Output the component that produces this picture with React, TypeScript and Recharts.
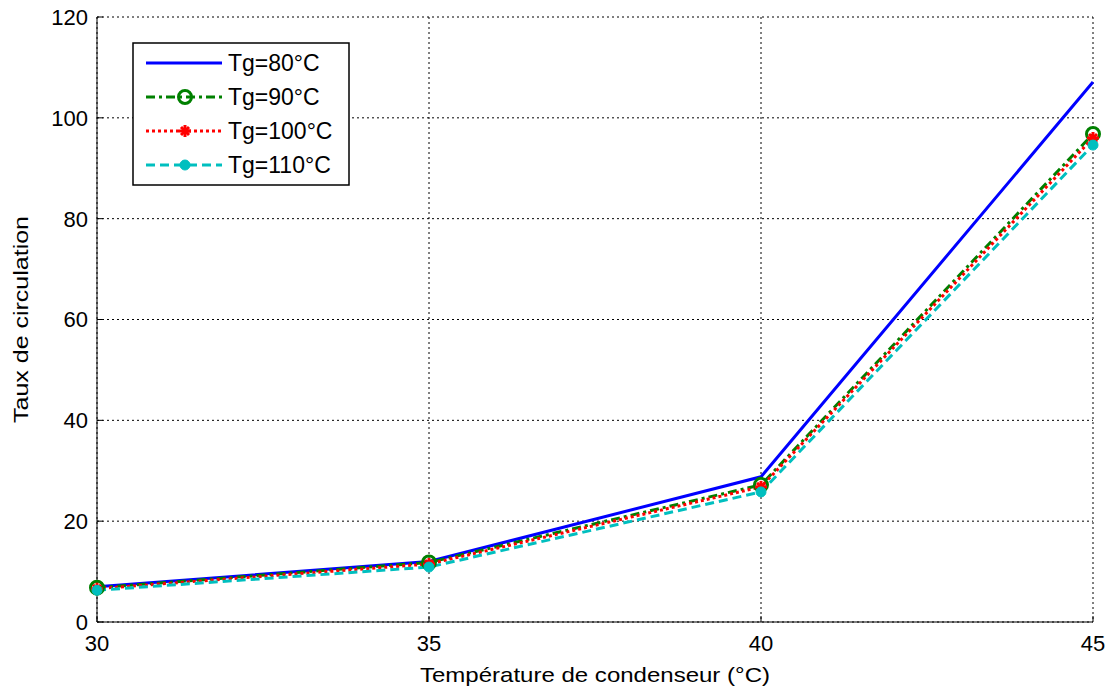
import React from 'react'
import {
  LineChart,
  Line,
  XAxis,
  YAxis,
  CartesianGrid,
} from 'recharts'

// condenser temperatures (°C)
const temps = [30, 35, 40, 45]
// circulation ratio per generator temperature
const tg80 = [7.0, 12.0, 28.8, 107.1]
const tg90 = [6.8, 11.8, 27.2, 96.8]
const tg100 = [6.6, 11.5, 26.8, 96.0]
const tg110 = [6.3, 10.9, 25.8, 94.6]

const xTicks = [30, 35, 40, 45]
const yTicks = [0, 20, 40, 60, 80, 100, 120]

const data = temps.map((t, i) => ({
  t,
  tg80: tg80[i],
  tg90: tg90[i],
  tg100: tg100[i],
  tg110: tg110[i],
}))

const FONT = '"Liberation Sans", Arial, sans-serif'

const OpenCircle = (props: any) => {
  const { cx, cy } = props
  if (cx == null || cy == null) return null
  return <circle cx={cx} cy={cy} r={6.5} fill="none" stroke="#008000" strokeWidth={3} />
}

const RedStar = (props: any) => {
  const { cx, cy } = props
  if (cx == null || cy == null) return null
  return (
    <g stroke="#ff0000" strokeWidth={3}>
      <line x1={cx - 6} y1={cy} x2={cx + 6} y2={cy} />
      <line x1={cx} y1={cy - 6} x2={cx} y2={cy + 6} />
      <line x1={cx - 4} y1={cy - 4} x2={cx + 4} y2={cy + 4} />
      <line x1={cx - 4} y1={cy + 4} x2={cx + 4} y2={cy - 4} />
    </g>
  )
}

const CyanDot = (props: any) => {
  const { cx, cy } = props
  if (cx == null || cy == null) return null
  return <circle cx={cx} cy={cy} r={5} fill="#00bfbf" stroke="#00bfbf" />
}

const XTick = (props: any) => {
  const { x, y, payload } = props
  return (
    <text x={x} y={y} dy="0.75em" textAnchor="middle" fontSize={22} fontFamily={FONT} fill="#000">
      {payload.value}
    </text>
  )
}

const YTick = (props: any) => {
  const { x, y, payload } = props
  return (
    <text x={x} y={y} dy="0.36em" textAnchor="end" fontSize={22} fontFamily={FONT} fill="#000">
      {payload.value}
    </text>
  )
}

const legendItems = [
  { label: 'Tg=80°C', color: '#0000ff', dash: undefined, marker: 'none' },
  { label: 'Tg=90°C', color: '#008000', dash: '9 4 3 4', marker: 'circle' },
  { label: 'Tg=100°C', color: '#ff0000', dash: '3 3', marker: 'star' },
  { label: 'Tg=110°C', color: '#00bfbf', dash: '9 5', marker: 'dot' },
]

const LegendBox = () => (
  <svg
    width={218}
    height={144}
    style={{ position: 'absolute', left: 132, top: 42 }}
  >
    <rect x={1} y={1} width={216} height={142} fill="#fff" stroke="#000" strokeWidth={1.5} />
    {legendItems.map((it, i) => {
      const y = 21 + i * 34
      return (
        <g key={it.label}>
          <line x1={14} y1={y} x2={90} y2={y} stroke={it.color} strokeWidth={3} strokeDasharray={it.dash} />
          {it.marker === 'circle' && <OpenCircle cx={53} cy={y} />}
          {it.marker === 'star' && <RedStar cx={53} cy={y} />}
          {it.marker === 'dot' && <CyanDot cx={53} cy={y} />}
          <text x={96} y={y + 8} fontSize={23} fontFamily={FONT} fill="#000">
            {it.label}
          </text>
        </g>
      )
    })}
  </svg>
)

export default function App() {
  return (
    <div style={{ position: 'absolute', left: 0, top: 0, width: 1116, height: 688, background: '#fff' }}>
      <LineChart
        width={1116}
        height={688}
        data={data}
        margin={{ top: 17, right: 23, left: 0, bottom: 0 }}
      >
        <CartesianGrid stroke="#000" strokeDasharray="2 3" strokeWidth={1} />
        <XAxis
          type="number"
          dataKey="t"
          domain={[30, 45]}
          ticks={xTicks}
          height={66}
          tick={<XTick />}
          tickSize={-6}
          tickMargin={18}
          tickLine={{ stroke: '#000' }}
          axisLine={{ stroke: '#000' }}
          label={{
            content: (p: any) => {
              const vb = p.viewBox
              return (
                <text x={vb.x + vb.width / 2} y={682} textAnchor="middle" fontSize={21} fontFamily={FONT} fill="#000" textLength={350} lengthAdjust="spacingAndGlyphs">
                  Température de condenseur (°C)
                </text>
              )
            },
          }}
        />
        <XAxis xAxisId="top" orientation="top" type="number" dataKey="t" domain={[30, 45]} ticks={xTicks} height={0} tick={false} tickSize={-6} tickLine={{ stroke: '#000' }} axisLine={{ stroke: '#000' }} />
        <YAxis
          type="number"
          domain={[0, 120]}
          ticks={yTicks}
          width={97}
          tick={<YTick />}
          tickSize={-6}
          tickMargin={15}
          tickLine={{ stroke: '#000' }}
          axisLine={{ stroke: '#000' }}
          label={{
            content: (p: any) => {
              const vb = p.viewBox
              const cy = vb.y + vb.height / 2
              return (
                <text x={28} y={cy} transform={`rotate(-90 28 ${cy})`} textAnchor="middle" fontSize={21} fontFamily={FONT} fill="#000" textLength={207} lengthAdjust="spacingAndGlyphs">
                  Taux de circulation
                </text>
              )
            },
          }}
        />
        <YAxis yAxisId="right" orientation="right" type="number" domain={[0, 120]} ticks={yTicks} width={0} tick={false} tickSize={-6} tickLine={{ stroke: '#000' }} axisLine={{ stroke: '#000' }} />
        <Line dataKey="tg80" stroke="#0000ff" strokeWidth={3} dot={false} isAnimationActive={false} />
        <Line dataKey="tg90" stroke="#008000" strokeWidth={3} strokeDasharray="9 4 3 4" dot={<OpenCircle />} isAnimationActive={false} />
        <Line dataKey="tg100" stroke="#ff0000" strokeWidth={3} strokeDasharray="3 3" dot={<RedStar />} isAnimationActive={false} />
        <Line dataKey="tg110" stroke="#00bfbf" strokeWidth={3} strokeDasharray="9 5" dot={<CyanDot />} isAnimationActive={false} />
      </LineChart>
      <LegendBox />
    </div>
  )
}
